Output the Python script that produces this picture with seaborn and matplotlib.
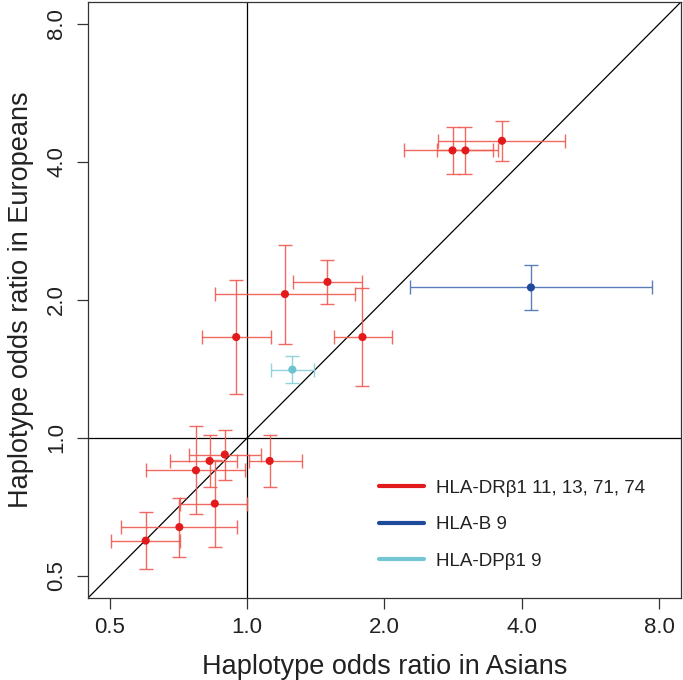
import numpy as np
import pandas as pd
import matplotlib
matplotlib.use('Agg')
import matplotlib.pyplot as plt
from matplotlib.lines import Line2D
import seaborn as sns

# odds ratios (Asians = x, Europeans = y)
groups = ["HLA-DR\u03b21 11, 13, 71, 74"] * 14 + ["HLA-B 9", "HLA-DP\u03b21 9"]
or_asian = [2.82, 3.01, 3.62, 0.946, 1.21, 1.50, 1.79, 0.599, 0.710, 0.849, 0.772, 0.827, 0.893, 1.12, 4.19, 1.256]
ci_asian_lo = [2.21, 2.61, 2.62, 0.794, 0.849, 1.258, 1.55, 0.502, 0.529, 0.714, 0.601, 0.676, 0.747, 1.01, 2.28, 1.128]
ci_asian_hi = [3.46, 3.55, 4.97, 1.128, 1.72, 1.79, 2.08, 0.714, 0.952, 1.00, 0.99, 0.95, 1.07, 1.32, 7.71, 1.40]
or_europe = [4.24, 4.24, 4.45, 1.66, 2.06, 2.19, 1.66, 0.597, 0.639, 0.719, 0.850, 0.891, 0.920, 0.891, 2.13, 1.41]
ci_europe_lo = [3.77, 3.77, 4.03, 1.25, 1.60, 1.96, 1.30, 0.518, 0.549, 0.577, 0.681, 0.782, 0.811, 0.782, 1.90, 1.32]
ci_europe_hi = [4.78, 4.78, 4.92, 2.21, 2.63, 2.44, 2.12, 0.690, 0.741, 0.894, 1.064, 1.013, 1.04, 1.013, 2.38, 1.51]

legend_labels = ["HLA-DR\u03b21 11, 13, 71, 74", "HLA-B 9", "HLA-DP\u03b21 9"]
point_colors = {legend_labels[0]: "#e31a1c", legend_labels[1]: "#1f4a9c", legend_labels[2]: "#6cc3d0"}
bar_colors = {legend_labels[0]: "#ee5a50", legend_labels[1]: "#4a70b5", legend_labels[2]: "#86cfd9"}
line_colors = {legend_labels[0]: "#e31a1c", legend_labels[1]: "#1f4a9c", legend_labels[2]: "#74c6d2"}

df = pd.DataFrame({
    "group": groups,
    "asian": or_asian, "asian_lo": ci_asian_lo, "asian_hi": ci_asian_hi,
    "europe": or_europe, "europe_lo": ci_europe_lo, "europe_hi": ci_europe_hi,
})

sns.set_style("white")
plt.rcParams['font.family'] = ['Liberation Sans', 'DejaVu Sans']

fig = plt.figure(figsize=(6.83, 6.80), dpi=100)
ax = fig.add_axes([0.1288, 0.1206, 0.8682, 0.8765])

lim = (0.5 * 2 ** -0.16, 8 * 2 ** 0.16)
ax.set_xscale('log', base=2)
ax.set_yscale('log', base=2)
ax.set_xlim(lim)
ax.set_ylim(lim)

# reference lines
ax.axvline(1.0, color='black', lw=0.9, zorder=1)
ax.axhline(1.0, color='black', lw=0.9, zorder=1)
ax.plot(lim, lim, color='black', lw=0.9, zorder=1)

for g, sub in df.groupby("group", sort=False):
    ax.errorbar(sub["asian"], sub["europe"],
                xerr=[sub["asian"] - sub["asian_lo"], sub["asian_hi"] - sub["asian"]],
                yerr=[sub["europe"] - sub["europe_lo"], sub["europe_hi"] - sub["europe"]],
                fmt='none', ecolor=bar_colors[g], elinewidth=1.0, capsize=4.7,
                capthick=1.0, alpha=0.9, zorder=2)

sns.scatterplot(data=df, x="asian", y="europe", hue="group", palette=point_colors,
                s=34, edgecolor='none', legend=False, ax=ax, zorder=3)

ticks = [0.5, 1.0, 2.0, 4.0, 8.0]
tick_labels = ["0.5", "1.0", "2.0", "4.0", "8.0"]
ax.set_xticks(ticks)
ax.set_xticklabels(tick_labels)
ax.set_yticks(ticks)
ax.set_yticklabels(tick_labels, rotation=90, va='center')
ax.minorticks_off()
ax.tick_params(axis='both', direction='out', length=8, width=0.9, color='#333333',
               labelsize=16, labelcolor='#222222', left=True, bottom=True)
ax.tick_params(axis='x', pad=6)
ax.tick_params(axis='y', pad=7)

for s in ax.spines.values():
    s.set_color('#333333')
    s.set_linewidth(0.9)

ax.set_xlabel("Haplotype odds ratio in Asians", fontsize=19.5, color='#222222', labelpad=11)
ax.set_ylabel("Haplotype odds ratio in Europeans", fontsize=19.5, color='#222222', labelpad=9)

handles = [Line2D([0], [0], color=line_colors[l], lw=3) for l in legend_labels]
ax.legend(handles, legend_labels, loc='upper left', bbox_to_anchor=(0.491, 0.1985),
          frameon=False, fontsize=13.5, handlelength=2.4, handletextpad=0.64,
          labelspacing=1.03, borderpad=0, borderaxespad=0, labelcolor='#222222')

fig.savefig("out.png", dpi=100, facecolor='white')
